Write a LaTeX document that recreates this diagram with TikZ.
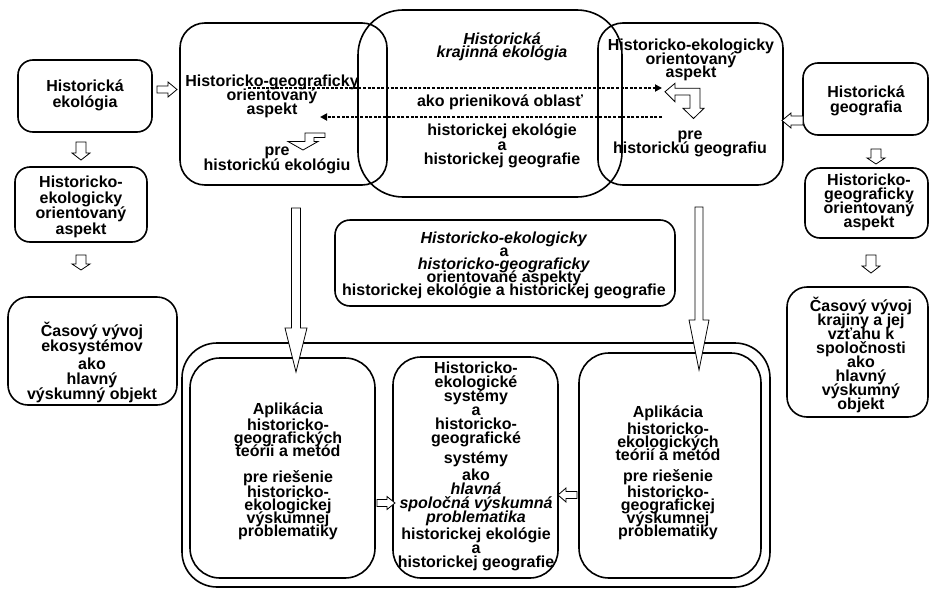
\documentclass[tikz,border=0pt]{standalone}
\usepackage{fontspec}
\setmainfont{Liberation Sans}
\usetikzlibrary{arrows.meta,calc}
\lineskiplimit=-40pt
\normallineskiplimit=-40pt
\tikzset{
  box/.style={draw, line width=1.6pt, rounded corners=#1, inner sep=0pt},
  box/.default=22pt,
  txt/.style={align=center, inner sep=0pt, font={\fontsize{16}{#1}\selectfont\bfseries\lineskiplimit=-40pt\relax}},
  txt/.default=14.5,
  harrowline/.style={draw, fill=white, line width=0.8pt, line join=miter},
  dotarrow/.style={line width=1.8pt, dash pattern=on 3pt off 1.6pt, -{Triangle[length=7pt,width=7pt]}},
  dotline/.style={line width=1.8pt, dash pattern=on 3pt off 1.6pt},
  pics/harrow/.style n args={4}{code={%
    \draw[harrowline] (0,-#2) -- ({#1-#4},-#2) -- ({#1-#4},-#3) -- (#1,0) -- ({#1-#4},#3) -- ({#1-#4},#2) -- (0,#2) -- cycle;}}
}
\begin{document}
\begin{tikzpicture}[x=1pt,y=-1pt]
\useasboundingbox (0,0) rectangle (931,589);

% ---------- left column ----------
\node[box=15pt, minimum width=134pt, minimum height=72pt] (hekol) at (85,96) {};
\node[txt=16] (thekol) at (85,95) {Historická\\ekológia};
\node[box=15pt, minimum width=132pt, minimum height=75pt] (hekasp) at (81,204.5) {};
\node[txt=15.5] (thekasp) at (81,207) {Historicko-\\ekologicky\\orientovaný\\aspekt};
\node[box=20pt, minimum width=169pt, minimum height=108pt] (casL) at (92.5,351) {};
\node[txt=15] (tcasL) at (92,362) {Časový vývoj\\ekosystémov\\[3pt]ako\\hlavný\\výskumný objekt};

% ---------- right column ----------
\node[box=15pt, minimum width=125pt, minimum height=72pt] (hgeo) at (865.5,99) {};
\node[txt=14.5] (thgeo) at (866,101) {Historická\\geografia};
\node[box=15pt, minimum width=123pt, minimum height=70pt] (hgasp) at (866.5,203) {};
\node[txt=14] (thgasp) at (869,202) {Historicko-\\geograficky\\orientovaný\\aspekt};
\node[box=20pt, minimum width=141pt, minimum height=130pt] (casR) at (857.5,352) {};
\node[txt=14] (tcasR) at (861,355) {Časový vývoj\\krajiny a jej\\vzťahu k\\spoločnosti\\ako\\hlavný\\výskumný\\objekt};

% ---------- top ----------
\node[box=25pt, minimum width=207pt, minimum height=162pt] (tl) at (283.5,104) {};
\node[txt=14] (ttla) at (272,96) {Historicko-geograficky\\orientovaný\\aspekt};
\node[txt=15] (ttlb) at (277,160) {pre\\historickú ekológiu};
\node[box=25pt, minimum width=185pt, minimum height=162pt] (tr) at (690.5,104) {};
\node[txt=13.5] (ttra) at (691,60) {Historicko-ekologicky\\orientovaný\\aspekt};
\node[txt=13.5] (ttrb) at (690,144) {pre\\historickú geografiu};
\node[box=45pt, minimum width=264pt, minimum height=187pt] (cen) at (490,103.5) {};
\node[txt=13.5] (tcena) at (502,47) {\itshape Historická\\\itshape krajinná ekológia};
\node[txt] (tcenb) at (500,102) {ako prieniková oblasť};
\node[txt=14.5] (tcenc) at (502,146) {historickej ekológie\\a\\historickej geografie};

% dotted arrows
\coordinate (d1s) at (248,88);
\coordinate (d1e) at (662,88);
\coordinate (d2s) at (662,117);
\coordinate (d2e) at (320,117);
\draw[dotarrow] (d1s) -- (d1e);
\draw[dotarrow] (d2s) -- (d2e);

% bent hollow arrows
\draw[harrowline] (325,133) -- (305,133) -- (305,141.5) -- (288,141.5) -- (303,150) -- (318,141.5) -- (314,141.5) -- (314,137.5) -- (325,137.5) -- cycle;
\draw[harrowline] (665,91.7) -- (675,83.3) -- (675,88.3) -- (700,88.3) -- (700,108.3) -- (704,108.3) -- (693.5,118.5) -- (683,108.3) -- (690,108.3) -- (690,95) -- (675,95) -- (675,101.7) -- cycle;

% ---------- middle box ----------
\node[box=15pt, minimum width=340pt, minimum height=86pt] (mid) at (505,263) {};
\node[txt=13] (tmid) at (504,265) {\textit{Historicko-ekologicky}\\a\\\textit{historicko-geograficky}\\orientované aspekty\\historickej ekológie a historickej geografie};

% ---------- bottom ----------
\node[box=35pt, minimum width=588pt, minimum height=244pt] (outer) at (476,465) {};
\node[box=30pt, minimum width=185pt, minimum height=220pt] (bl) at (282.5,468) {};
\node[txt=13] (tbl) at (288,471) {Aplikácia\\[3pt]historicko-\\geografických\\teórii a metód\\[13pt]pre riešenie\\[2pt]historicko-\\ekologickej\\výskumnej\\problematiky};
\node[box=28pt, minimum width=165pt, minimum height=221pt] (bm) at (475.5,467.5) {};
\node[txt=14] (tbm) at (476,466) {Historicko-\\ekologické\\systémy\\a\\historicko-\\geografické\\[6pt]systémy\\[3pt]ako\\\textit{hlavná}\\\textit{spoločná výskumná}\\\textit{problematika}\\[3pt]historickej ekológie\\a\\historickej geografie};
\node[box=30pt, minimum width=182pt, minimum height=225pt] (br) at (670,465.5) {};
\node[txt=13] (tbr) at (668,473) {Aplikácia\\[4pt]historicko-\\ekologických\\teórií a metód\\[8pt]pre riešenie\\[3pt]historicko-\\geografickej\\výskumnej\\problematiky};

% ---------- hollow arrows ----------
\pic at (157,89.5) {harrow={20}{3.5}{7.5}{9}};
\pic[rotate=-90] at (81,142) {harrow={18}{5}{9}{7}};
\pic[rotate=-90] at (81,255) {harrow={15}{5}{9}{6}};
\pic[rotate=-90] at (876,149) {harrow={15}{5}{9}{6}};
\pic[rotate=-90] at (871,255) {harrow={18}{5}{9}{7}};
\pic[rotate=180] at (803,120.5) {harrow={21}{4.5}{7.5}{9}};
\pic[rotate=-90] at (296,208) {harrow={164}{4.5}{11}{44}};
\pic[rotate=-90] at (699,207) {harrow={163}{4}{10}{50}};
\pic at (377,503) {harrow={18}{3.5}{6.5}{8}};
\pic[rotate=180] at (577,495) {harrow={19}{3.5}{7}{8}};
\end{tikzpicture}
\end{document}
